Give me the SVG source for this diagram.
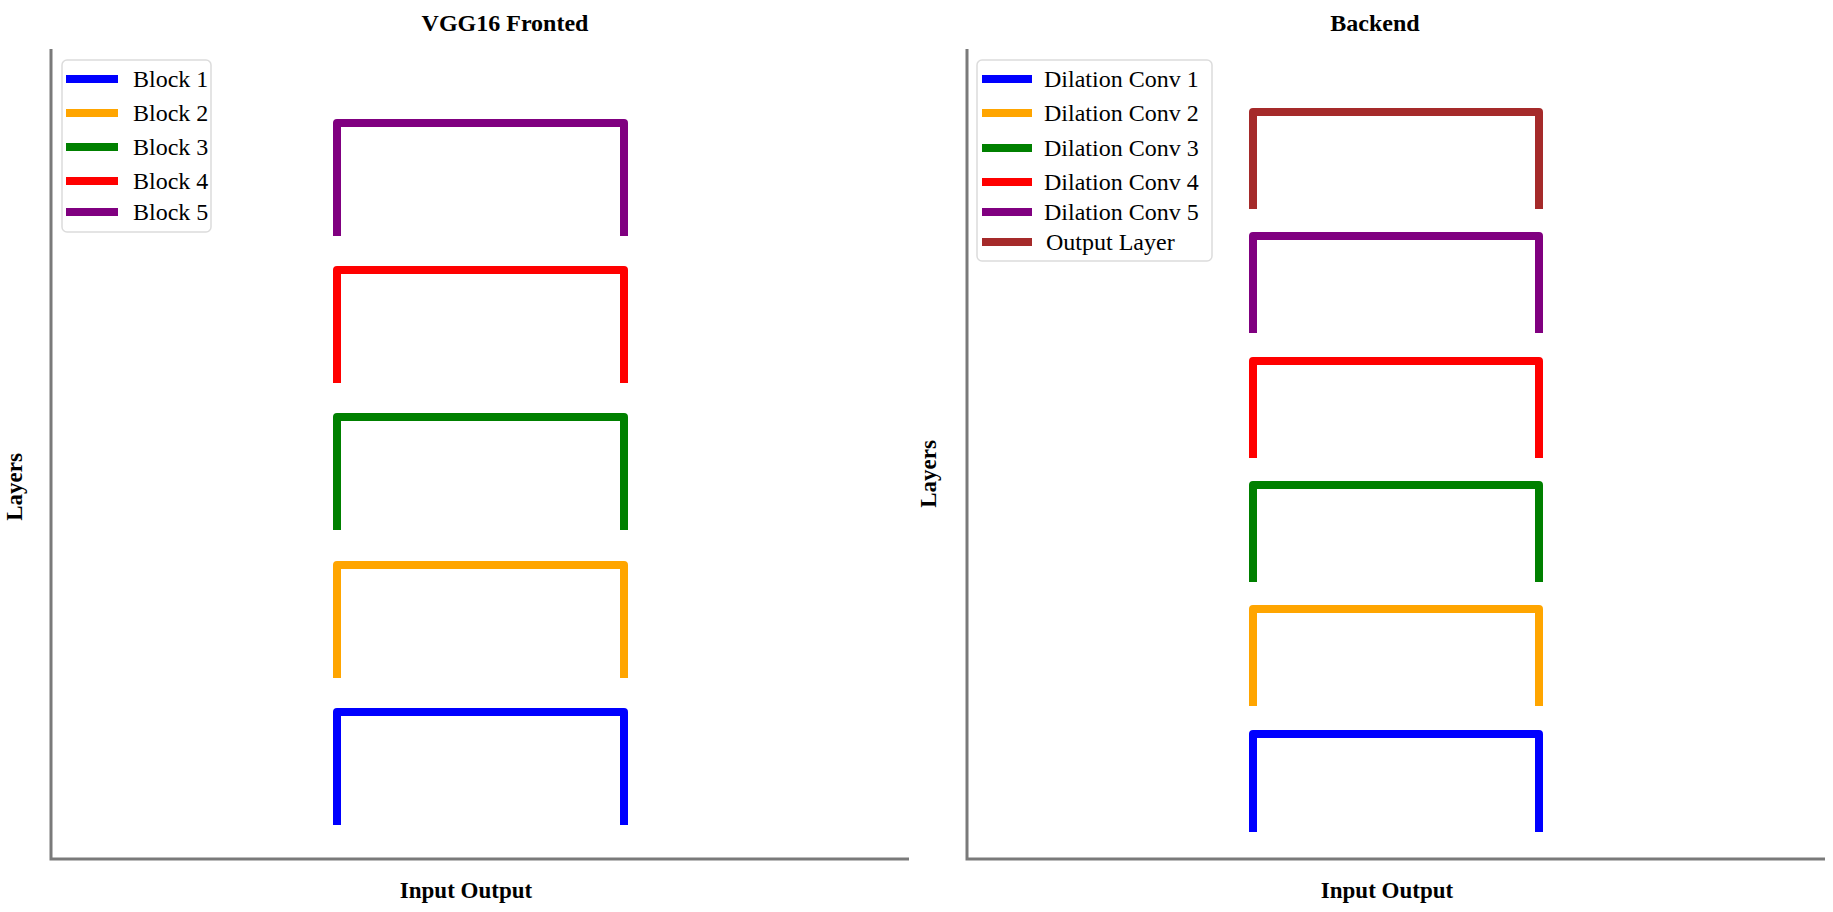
<svg xmlns="http://www.w3.org/2000/svg" width="1833" height="912" viewBox="0 0 1833 912">
<style>
.bg{fill:#ffffff}
.axis{stroke:#7a7a7a;stroke-width:3;fill:none}
.br{fill:none;stroke-width:8;stroke-linejoin:round;stroke-linecap:butt}
.lg{stroke-width:8;stroke-linecap:butt}
.frame{fill:#ffffff;stroke:#dcdcdc;stroke-width:1.5}
.t{font-family:"Liberation Serif","Times New Roman",serif;fill:#000}
.title{font-size:24px;font-weight:bold;text-anchor:middle}
.lab{font-size:23px;font-weight:bold;text-anchor:middle}
.leg{font-size:24px}
.c1{stroke:#0000ff}.c2{stroke:#ffa500}.c3{stroke:#008000}.c4{stroke:#ff0000}.c5{stroke:#800080}.c6{stroke:#a52a2a}
</style>
<rect class="bg" x="0" y="0" width="1833" height="912"/>

<g id="left-panel">
  <text class="t title" x="505" y="31">VGG16 Fronted</text>
  <path class="axis" d="M51 49 V859 H909"/>
  <text class="t lab" x="466" y="898">Input Output</text>
  <text class="t lab" transform="translate(22 487) rotate(-90)">Layers</text>
</g>
<g id="left-legend">
  <rect class="frame" x="62" y="60" width="149" height="172" rx="5"/>
  <line class="lg c1" x1="66" y1="79" x2="118" y2="79"/><text class="t leg" x="133" y="87">Block 1</text>
  <line class="lg c2" x1="66" y1="113" x2="118" y2="113"/><text class="t leg" x="133" y="121">Block 2</text>
  <line class="lg c3" x1="66" y1="147" x2="118" y2="147"/><text class="t leg" x="133" y="155">Block 3</text>
  <line class="lg c4" x1="66" y1="181" x2="118" y2="181"/><text class="t leg" x="133" y="189">Block 4</text>
  <line class="lg c5" x1="66" y1="212" x2="118" y2="212"/><text class="t leg" x="133" y="220">Block 5</text>
</g>
<g id="block5"><path class="br c5" d="M337 236 V123 H624 V236"/></g>
<g id="block4"><path class="br c4" d="M337 383 V270 H624 V383"/></g>
<g id="block3"><path class="br c3" d="M337 530 V417 H624 V530"/></g>
<g id="block2"><path class="br c2" d="M337 678 V565 H624 V678"/></g>
<g id="block1"><path class="br c1" d="M337 825 V712 H624 V825"/></g>

<g id="right-panel">
  <text class="t title" x="1375" y="31">Backend</text>
  <path class="axis" d="M967 49 V859 H1825"/>
  <text class="t lab" x="1387" y="898">Input Output</text>
  <text class="t lab" transform="translate(936 474) rotate(-90)">Layers</text>
</g>
<g id="right-legend">
  <rect class="frame" x="977" y="60" width="235" height="201" rx="5"/>
  <line class="lg c1" x1="982" y1="79" x2="1032" y2="79"/><text class="t leg" x="1044" y="87">Dilation Conv 1</text>
  <line class="lg c2" x1="982" y1="113" x2="1032" y2="113"/><text class="t leg" x="1044" y="121">Dilation Conv 2</text>
  <line class="lg c3" x1="982" y1="148" x2="1032" y2="148"/><text class="t leg" x="1044" y="156">Dilation Conv 3</text>
  <line class="lg c4" x1="982" y1="182" x2="1032" y2="182"/><text class="t leg" x="1044" y="190">Dilation Conv 4</text>
  <line class="lg c5" x1="982" y1="212" x2="1032" y2="212"/><text class="t leg" x="1044" y="220">Dilation Conv 5</text>
  <line class="lg c6" x1="982" y1="242" x2="1032" y2="242"/><text class="t leg" x="1046" y="250">Output Layer</text>
</g>
<g id="output-layer"><path class="br c6" d="M1253 209 V112 H1539 V209"/></g>
<g id="dconv5"><path class="br c5" d="M1253 333 V236 H1539 V333"/></g>
<g id="dconv4"><path class="br c4" d="M1253 458 V361 H1539 V458"/></g>
<g id="dconv3"><path class="br c3" d="M1253 582 V485 H1539 V582"/></g>
<g id="dconv2"><path class="br c2" d="M1253 706 V609 H1539 V706"/></g>
<g id="dconv1"><path class="br c1" d="M1253 832 V734 H1539 V832"/></g>

<g id="connectors"></g>
</svg>
